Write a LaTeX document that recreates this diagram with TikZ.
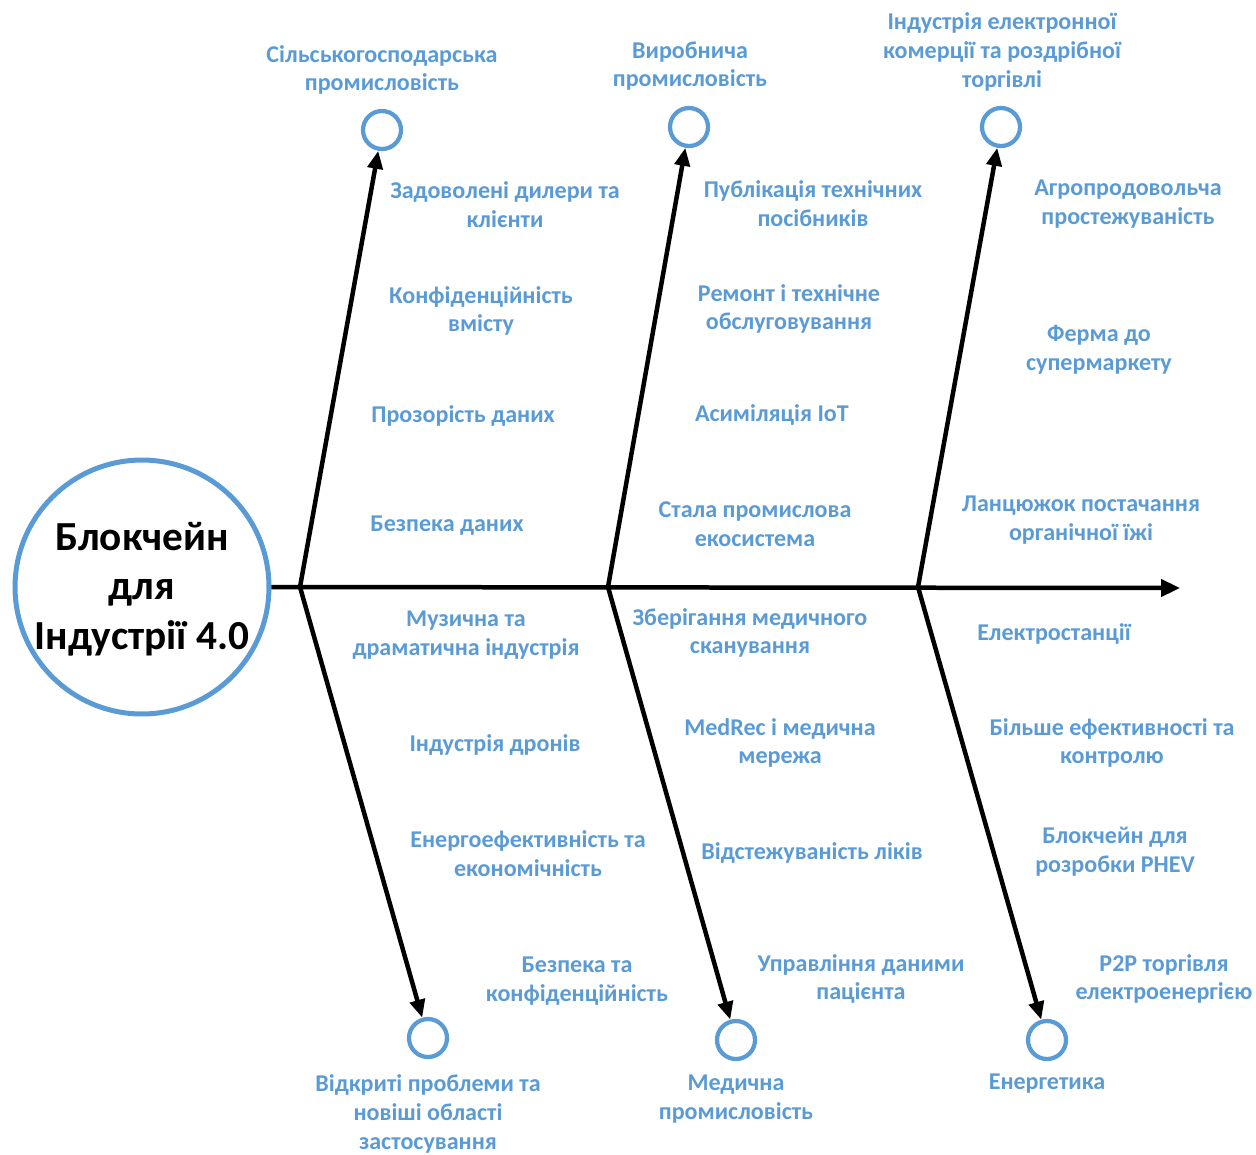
\documentclass[tikz,border=0pt]{standalone}
\usepackage{fontspec}
\setmainfont{Carlito}
\usetikzlibrary{arrows.meta}
\definecolor{lblue}{RGB}{91,155,213}
\tikzset{
lbl/.style={text=lblue, font=\bfseries\fontsize{13.7}{16.4}\selectfont, align=center, inner sep=0pt},
ring/.style={circle, draw=lblue, line width=0.085cm, minimum size=0.76cm, inner sep=0pt},
bone/.style={line width=0.09cm, line join=miter, {Triangle[length=0.36cm,width=0.3cm]}-{Triangle[length=0.36cm,width=0.3cm]}},
spine/.style={line width=0.09cm, -{Triangle[length=0.38cm,width=0.34cm]}},
}
\begin{document}
\begin{tikzpicture}[x=0.02cm,y=-0.02cm]
\useasboundingbox (0,0) rectangle (1256,1154);
\node[circle, draw=lblue, line width=0.1cm, minimum size=5.08cm, inner sep=0pt] (main) at (142,587) {};
\node[align=center, inner sep=0pt, font=\bfseries\fontsize{23.5}{28.3}\selectfont] (title) at (142,589) {Блокчейн\\для\\Індустрії 4.0};
\coordinate (tip) at (1180,588);
\draw[spine] (main.east) -- (tip);
\coordinate (j1) at (300,587);
\coordinate (j2) at (608,587);
\coordinate (j3) at (918,587);
\node[ring] (c1) at (382,130) {};
\node[ring] (c2) at (689,127) {};
\node[ring] (c3) at (1001,127) {};
\node[ring] (c4) at (428,1038) {};
\node[ring] (c5) at (736,1040) {};
\node[ring] (c6) at (1047,1040) {};
\draw[bone] (c1) -- (j1) -- (c4);
\draw[bone] (c2) -- (j2) -- (c5);
\draw[bone] (c3) -- (j3) -- (c6);
\node[lbl] (t1) at (382,70) {Сільськогосподарська\\промисловість};
\node[lbl] (t2) at (690,66) {Виробнича\\промисловість};
\node[lbl] (t3) at (1002,52) {Індустрія електронної\\комерції та роздрібної\\торгівлі};
\node[lbl] (t4) at (428,1114) {Відкриті проблеми та\\новіші області\\застосування};
\node[lbl] (t5) at (736,1099) {Медична\\промисловість};
\node[lbl] (t6) at (1047,1084) {Енергетика};
\node[lbl] (a1) at (505,205) {Задоволені дилери та\\клієнти};
\node[lbl] (a2) at (481,311) {Конфіденційність\\вмісту};
\node[lbl] (a3) at (463,416) {Прозорість даних};
\node[lbl] (a4) at (447,526) {Безпека даних};
\node[lbl] (b1) at (813,204) {Публікація технічних\\посібників};
\node[lbl] (b2) at (789,309) {Ремонт і технічне\\обслуговування};
\node[lbl] (b3) at (772,415) {Асиміляція IoT};
\node[lbl] (b4) at (755,524) {Стала промислова\\екосистема};
\node[lbl] (d1) at (1128,204) {Агропродовольча\\простежуваність};
\node[lbl] (d2) at (1099,350) {Ферма до\\супермаркету};
\node[lbl] (d3) at (1081,520) {Ланцюжок постачання\\органічної їжі};
\node[lbl] (e1) at (466,635) {Музична та\\драматична індустрія};
\node[lbl] (e2) at (495,745) {Індустрія дронів};
\node[lbl] (e3) at (528,854) {Енергоефективність та\\економічність};
\node[lbl] (e4) at (577,981) {Безпека та\\конфіденційність};
\node[lbl] (f1) at (750,633) {Зберігання медичного\\сканування};
\node[lbl] (f2) at (780,743) {MedRec і медична\\мережа};
\node[lbl] (f3) at (812,853) {Відстежуваність ліків};
\node[lbl] (f4) at (861,979) {Управління даними\\пацієнта};
\node[lbl] (g1) at (1054,634) {Електростанції};
\node[lbl] (g2) at (1112,743) {Більше ефективності та\\контролю};
\node[lbl] (g3) at (1115,852) {Блокчейн для\\розробки PHEV};
\node[lbl] (g4) at (1164,979) {P2P торгівля\\електроенергією};
\end{tikzpicture}
\end{document}
